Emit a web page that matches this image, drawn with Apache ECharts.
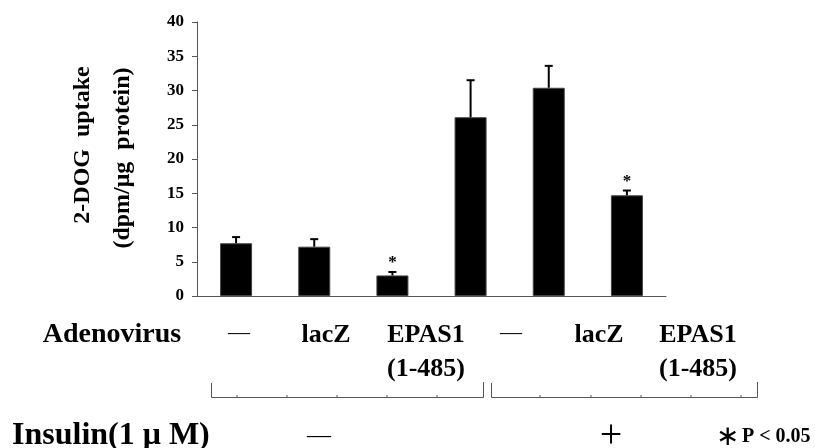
<!DOCTYPE html>
<html>
<head>
<meta charset="utf-8">
<title>2-DOG uptake</title>
<script src="https://cdn.jsdelivr.net/npm/echarts@6/dist/echarts.min.js"></script>
<style>
    html, body {margin: 0; padding: 0; background: #fff;}
    #main {width: 815px; height: 448px;}
</style>
</head>
<body>
<div id="main"></div>
<script>
// 数据
var categories = ['—', 'lacZ', 'EPAS1\n(1-485)', '—', 'lacZ', 'EPAS1\n(1-485)'];
var uptake = [7.7, 7.2, 3.0, 26.1, 30.4, 14.7];
var errorTop = [8.6, 8.3, 3.5, 31.5, 33.6, 15.4];
var significant = [0, 0, 1, 0, 0, 1];
var yTicks = [0, 5, 10, 15, 20, 25, 30, 35, 40];

var serif = "'Liberation Serif', 'Times New Roman', serif";

var errData = [];
for (var i = 0; i < uptake.length; i++) {
    errData.push([i, uptake[i], errorTop[i], significant[i]]);
}

// 下方标签的位置 (与柱子不完全对齐)
var labelX = [239, 326, 426, 511, 599, 698];

var myChart = echarts.init(document.getElementById('main'));

var graphics = [];

// y轴标题 (两行, 旋转)
graphics.push({
    type: 'text', x: 83, y: 145, rotation: Math.PI / 2,
    style: {text: '2-DOG  uptake', font: 'bold 24px ' + serif, fill: '#000', align: 'center', verticalAlign: 'middle'}
});
graphics.push({
    type: 'text', x: 123, y: 158, rotation: Math.PI / 2,
    style: {text: '(dpm/μg  protein)', font: 'bold 24px ' + serif, fill: '#000', align: 'center', verticalAlign: 'middle'}
});

// Adenovirus 行
graphics.push({
    type: 'text', x: 112, y: 335,
    style: {text: 'Adenovirus', font: 'bold 28px ' + serif, fill: '#000', align: 'center', verticalAlign: 'middle'}
});
categories.forEach(function (c, idx) {
    var isDash = c === '—';
    graphics.push({
        type: 'text', x: labelX[idx], y: isDash ? 316 : 318,
        style: {
            text: c,
            font: (isDash ? 'normal 22px ' : 'bold 26px ') + serif,
            lineHeight: 34,
            fill: '#000', align: 'center', verticalAlign: 'top'
        }
    });
});

// 括号
var bracketColor = '#555';
function bracket(x1, x2, ticks) {
    graphics.push({
        type: 'polyline',
        shape: {points: [[x1, 383], [x1, 397.5], [x2, 397.5], [x2, 382]]},
        style: {stroke: bracketColor, lineWidth: 1, fill: null}
    });
    ticks.forEach(function (t) {
        graphics.push({
            type: 'line',
            shape: {x1: t, y1: 397.5, x2: t, y2: 395},
            style: {stroke: bracketColor, lineWidth: 1}
        });
    });
}
bracket(211.5, 483.5, [237, 287, 337, 387, 437]);
bracket(491.5, 757.5, [540, 591, 641, 691, 741]);

// Insulin 行
graphics.push({
    type: 'text', x: 12, y: 436,
    style: {text: 'Insulin(1 μ M)', font: 'bold 32px ' + serif, fill: '#000', align: 'left', verticalAlign: 'middle'}
});
graphics.push({
    type: 'text', x: 319, y: 436,
    style: {text: '—', font: 'normal 24px ' + serif, fill: '#000', align: 'center', verticalAlign: 'middle'}
});
graphics.push({
    type: 'text', x: 611, y: 436,
    style: {text: '+', font: 'normal 40px ' + serif, fill: '#000', align: 'center', verticalAlign: 'middle'}
});
graphics.push({
    type: 'text', x: 727, y: 438,
    style: {text: '∗', font: 'normal 28px ' + serif, fill: '#000', align: 'center', verticalAlign: 'middle'}
});
graphics.push({
    type: 'text', x: 742, y: 437,
    style: {text: 'P < 0.05', font: 'bold 20px ' + serif, fill: '#000', align: 'left', verticalAlign: 'middle'}
});

var option = {
    animation: false,
    backgroundColor: '#fff',
    grid: {left: 197, right: 149, top: 22, bottom: 152},
    xAxis: {
        type: 'category',
        data: categories,
        axisLine: {lineStyle: {color: '#555', width: 1}},
        axisTick: {show: false},
        axisLabel: {show: false},
        splitLine: {show: false}
    },
    yAxis: {
        type: 'value',
        min: yTicks[0],
        max: yTicks[yTicks.length - 1],
        interval: 5,
        axisLine: {show: true, lineStyle: {color: '#555', width: 1}},
        axisTick: {show: true, length: 5, lineStyle: {color: '#555'}},
        axisLabel: {
            margin: 13,
            color: '#000',
            fontFamily: 'Liberation Serif',
            fontWeight: 'bold',
            fontSize: 17
        },
        splitLine: {show: false}
    },
    series: [
        {
            name: 'uptake',
            type: 'bar',
            barWidth: 32,
            data: uptake,
            itemStyle: {color: '#000', borderColor: '#444', borderWidth: 1},
            z: 2
        },
        {
            name: 'error',
            type: 'custom',
            data: errData,
            z: 3,
            renderItem: function (params, api) {
                var x = api.value(0);
                var base = api.coord([x, api.value(1)]);
                var top = api.coord([x, api.value(2)]);
                var children = [
                    {type: 'line', shape: {x1: base[0], y1: base[1], x2: top[0], y2: top[1]},
                        style: {stroke: '#000', lineWidth: 2}},
                    {type: 'line', shape: {x1: top[0] - 4, y1: top[1], x2: top[0] + 4, y2: top[1]},
                        style: {stroke: '#000', lineWidth: 2}}
                ];
                if (api.value(3)) {
                    children.push({
                        type: 'text',
                        x: top[0], y: top[1] - 9,
                        style: {text: '*', font: 'bold 17px ' + serif, fill: '#000',
                            align: 'center', verticalAlign: 'middle'}
                    });
                }
                return {type: 'group', children: children};
            }
        }
    ],
    graphic: graphics
};

myChart.setOption(option);
</script>
</body>
</html>
